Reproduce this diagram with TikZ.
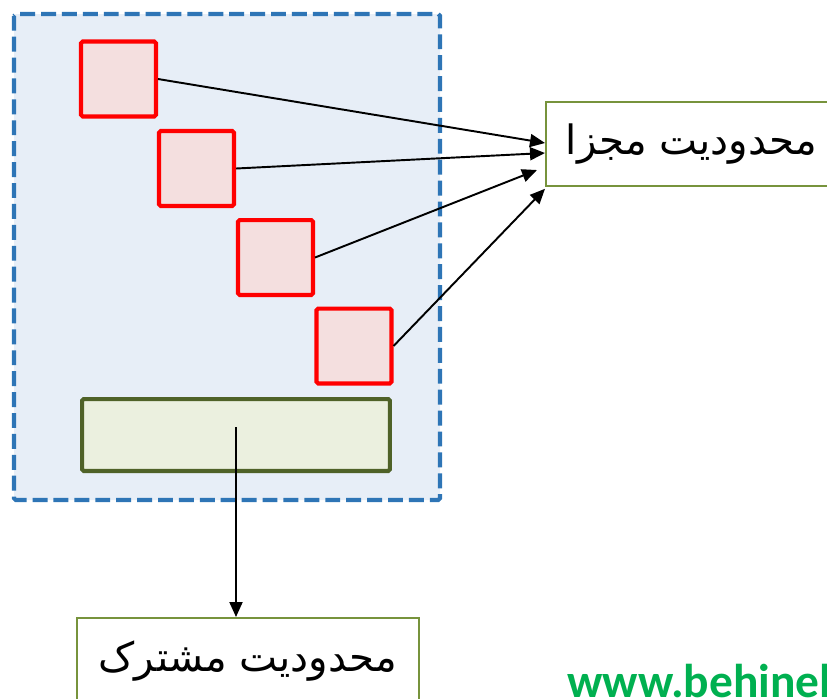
\documentclass[tikz,border=0pt]{standalone}
\usepackage{fontspec}
\TeXXeTstate=1
\newfontfamily\arabicfont[Script=Arabic]{DejaVu Sans}
\newfontfamily\webfont{Carlito}
\usetikzlibrary{arrows.meta}
\definecolor{frameblue}{HTML}{2E75B6}
\definecolor{framefill}{HTML}{E7EEF7}
\definecolor{pinkfill}{HTML}{F4DFDF}
\definecolor{olivedark}{HTML}{4F6228}
\definecolor{olivefill}{HTML}{EBF0DF}
\definecolor{oliveline}{HTML}{77933C}
\definecolor{webgreen}{HTML}{00B050}

\begin{document}
\begin{tikzpicture}[x=0.02cm,y=-0.02cm,
  redsq/.style={draw=red,fill=pinkfill,line width=2.3pt,rounded corners=1pt,minimum size=1.5cm,inner sep=0pt},
  labelbox/.style={draw=oliveline,fill=white,line width=0.9pt,font=\arabicfont\fontsize{23}{27}\selectfont},
  conn/.style={line width=1.1pt,-{Triangle[length=0.3cm,width=0.26cm]}}]
\useasboundingbox (0,0) rectangle (827,698);

% outer dashed block
\draw[frameblue,fill=framefill,line width=2.3pt,dash pattern=on 8.5pt off 3.4pt,rounded corners=1pt] (14,14) rectangle (440,500);

\node[redsq] (sq1) at (118.5,79) {};
\node[redsq] (sq2) at (196.5,168.5) {};
\node[redsq] (sq3) at (275.5,257.5) {};
\node[redsq] (sq4) at (354,346) {};

\node[draw=olivedark,fill=olivefill,line width=2.3pt,rounded corners=1pt,minimum width=6.16cm,minimum height=1.44cm,inner sep=0pt] (shared) at (236,435) {};

\node[labelbox,anchor=west,minimum height=1.68cm,inner xsep=0.4cm] (mojza) at (545,144) {\beginR محدودیت مجزا\endR\hspace*{1cm}};
\node[labelbox,anchor=north,minimum width=6.84cm,minimum height=1.72cm] (moshtarak) at (248,617) {\beginR محدودیت مشترک\endR};

\draw[conn] (sq1.east) -- ([yshift=0.02cm]mojza.west);
\draw[conn] (sq2.east) -- ([yshift=-0.18cm]mojza.west);
\draw[conn] (sq3.east) -- ([xshift=-0.16cm,yshift=-0.52cm]mojza.west);
\draw[conn] (sq4.east) -- ([yshift=-0.04cm]mojza.south west);
\draw[conn] ([yshift=0.16cm]shared.center) -- (shared.center |- moshtarak.north);

\node[anchor=base west,inner sep=0pt,text=webgreen,font=\webfont\bfseries\fontsize{27}{30}\selectfont] (web) at (567,697) {www.behinel};
\end{tikzpicture}
\end{document}
